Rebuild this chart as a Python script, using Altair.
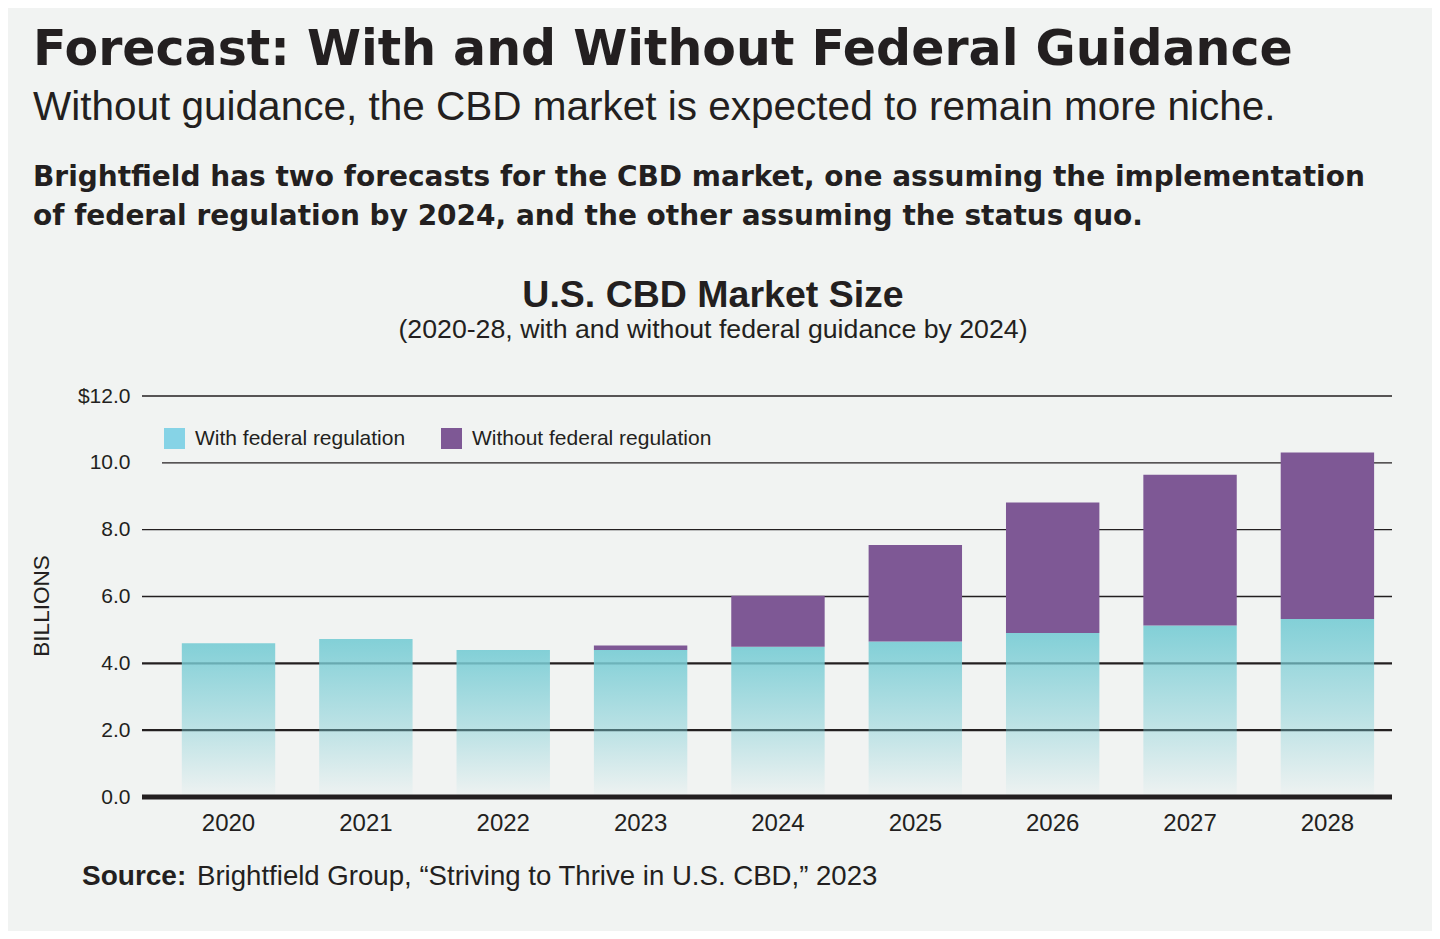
import altair as alt
import pandas as pd

# ---------------- data ----------------
YEARS = ["2020", "2021", "2022", "2023", "2024", "2025", "2026", "2027", "2028"]
WITH_REG = [4.60, 4.73, 4.40, 4.40, 4.50, 4.65, 4.91, 5.13, 5.33]      # cyan segment top
WITHOUT_REG = [4.60, 4.73, 4.40, 4.53, 6.02, 7.54, 8.81, 9.64, 10.31]  # purple segment top
SERIES = ["With federal regulation", "Without federal regulation"]
Y_TICKS = [0, 2, 4, 6, 8, 10, 12]
GRID_THIN = [6, 8, 12]
GRID_SHORT = [10]
GRID_THICK = [2, 4]
BASELINE = [0]

TITLE = "Forecast: With and Without Federal Guidance"
SUBTITLE = "Without guidance, the CBD market is expected to remain more niche."
PARA_1 = "Brightfield has two forecasts for the CBD market, one assuming the implementation"
PARA_2 = "of federal regulation by 2024, and the other assuming the status quo."
CHART_TITLE = "U.S. CBD Market Size"
CHART_SUB = "(2020-28, with and without federal guidance by 2024)"
Y_TITLE = "BILLIONS"
SOURCE_BOLD = "Source:"
SOURCE_REST = "Brightfield Group, \u201cStriving to Thrive in U.S. CBD,\u201d 2023"

# ---------------- style ----------------
BG = "#F1F3F2"
INK = "#231F20"
PURPLE = "#7E5895"
CYAN_LEG = "#86D3E6"
W, H = 1250, 401

df = pd.DataFrame({
    "year": YEARS,
    "with": WITH_REG,
    "without": WITHOUT_REG,
    "series": [SERIES[1]] * len(YEARS),
})

y_scale = alt.Scale(domain=[0, 12], nice=False, zero=True)
x_scale = alt.Scale(paddingInner=0.32, paddingOuter=0.21, align=0.69)

y_axis = alt.Axis(
    values=Y_TICKS,
    labelExpr="datum.value == 12 ? '$12.0' : format(datum.value, '.1f')",
    title=None, grid=False, domain=False, ticks=False,
    labelPadding=12, labelFontSize=21, labelColor=INK, labelFont="Liberation Sans",
)
x_axis = alt.Axis(
    title=None, domain=False, ticks=False, labelAngle=0,
    labelPadding=14, labelFontSize=24, labelColor=INK, labelFont="Liberation Sans",
)

X = alt.X("year:O", scale=x_scale, axis=x_axis, sort=YEARS)


def grid_layer(vals, width, x0=0):
    return alt.Chart(pd.DataFrame({"v": vals})).mark_rule(color=INK, strokeWidth=width).encode(
        y=alt.Y("v:Q", scale=y_scale, axis=y_axis),
        x=alt.value(x0),
        x2=alt.value(W),
    )


grid_thin = grid_layer(GRID_THIN, 1.3)
grid_short = grid_layer(GRID_SHORT, 1.3, 20)
grid_thick = grid_layer(GRID_THICK, 2.2)

gradient = alt.LinearGradient(
    gradient="linear",
    stops=[
        alt.GradientStop(color="rgba(122,205,213,0.93)", offset=0),
        alt.GradientStop(color="rgba(122,205,213,0.45)", offset=0.55),
        alt.GradientStop(color="rgba(122,205,213,0.02)", offset=1),
    ],
    x1=0, x2=0, y1=0, y2=1,
)

cyan = alt.Chart(df).mark_bar(color=gradient).encode(
    x=X,
    y=alt.Y("with:Q", scale=y_scale, axis=y_axis),
)

purple = alt.Chart(df).mark_bar().encode(
    x=X,
    y=alt.Y("with:Q", scale=y_scale, axis=y_axis),
    y2="without:Q",
    color=alt.Color(
        "series:N",
        scale=alt.Scale(domain=SERIES, range=[CYAN_LEG, PURPLE]),
        legend=alt.Legend(
            title=None, orient="none", legendX=22, legendY=32, direction="horizontal",
            symbolType="square", symbolSize=441, symbolStrokeWidth=0, symbolOpacity=1,
            labelFontSize=21, labelColor=INK, labelFont="Liberation Sans",
            labelOffset=10, columnPadding=35, padding=0, labelLimit=0,
        ),
    ),
)

baseline = alt.Chart(pd.DataFrame({"v": BASELINE})).mark_rule(color=INK, strokeWidth=5).encode(
    y=alt.Y("v:Q", scale=y_scale, axis=y_axis),
    x=alt.value(0),
    x2=alt.value(W),
)


def text_layer(txt, x, y, size, font="Liberation Sans", weight="normal", align="left", angle=0):
    props = dict(align=align, baseline="alphabetic", fontSize=size, font=font,
                 fontWeight=weight, color=INK)
    if angle:
        props["angle"] = angle
        props["baseline"] = "middle"
        props["align"] = "center"
    return alt.Chart(pd.DataFrame({"t": [txt]})).mark_text(**props).encode(
        text="t:N", x=alt.value(x), y=alt.value(y)
    )


texts = [
    text_layer(TITLE, -109, -331, 49, font="DejaVu Sans", weight="bold"),
    text_layer(SUBTITLE, -109, -276, 40.5),
    text_layer(PARA_1, -109, -210, 28, font="DejaVu Sans", weight="bold"),
    text_layer(PARA_2, -109, -171, 28, font="DejaVu Sans", weight="bold"),
    text_layer(CHART_TITLE, 571, -89, 37.5, weight="bold", align="center"),
    text_layer(CHART_SUB, 571, -58, 26.7, align="center"),
    text_layer(Y_TITLE, -100, 210, 22.5, angle=270),
    text_layer(SOURCE_BOLD, -60, 489, 28, weight="bold"),
    text_layer(SOURCE_REST, 55, 489, 27.6),
]

chart = alt.layer(
    grid_thin, grid_short, grid_thick, cyan, purple, baseline, *texts
).properties(
    width=W, height=H,
    background=BG,
    padding={"left": 134, "top": 388, "right": 40, "bottom": 134},
    autosize=alt.AutoSizeParams(type="none"),
).configure_view(stroke=None)

chart.save("out.html", embed_options={"renderer": "svg", "actions": False})
